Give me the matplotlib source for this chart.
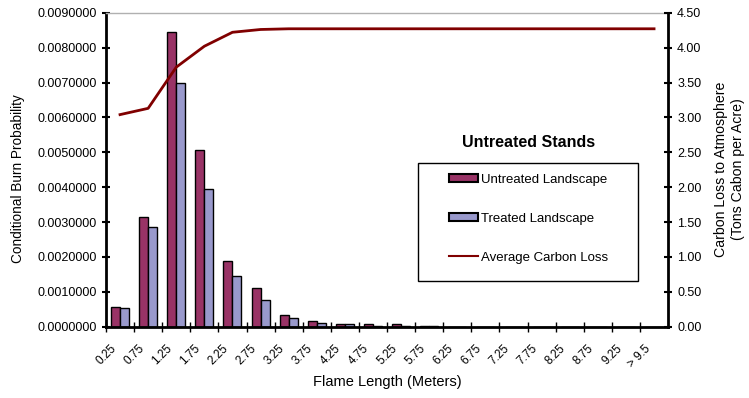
import numpy as np
import matplotlib
matplotlib.use("Agg")
from matplotlib import pyplot as plt
from matplotlib.patches import Patch, Rectangle
from matplotlib.lines import Line2D
from matplotlib.ticker import FormatStrFormatter
import matplotlib.transforms as mtransforms

plt.rcParams['font.family'] = ['Liberation Sans', 'DejaVu Sans']

# flame length classes (meters)
lengths = ['0.25', '0.75', '1.25', '1.75', '2.25', '2.75', '3.25', '3.75', '4.25', '4.75',
           '5.25', '5.75', '6.25', '6.75', '7.25', '7.75', '8.25', '8.75', '9.25', '> 9.5']

untreated = [0.00057, 0.00314, 0.00846, 0.00508, 0.00189, 0.00110, 0.00035, 0.00016,
             0.00008, 0.00008, 0.00008, 0.00003, 0, 0, 0, 0, 0, 0, 0, 0]
treated = [0.00053, 0.00286, 0.00700, 0.00395, 0.00145, 0.00076, 0.00024, 0.00012,
           0.00007, 0.00003, 0.00003, 0.00001, 0, 0, 0, 0, 0, 0, 0, 0]
carbon = [3.04, 3.13, 3.72, 4.02, 4.22, 4.26, 4.27, 4.27, 4.27, 4.27,
          4.27, 4.27, 4.27, 4.27, 4.27, 4.27, 4.27, 4.27, 4.27, 4.27]

fig = plt.figure(figsize=(7.49, 3.98), dpi=100)
ax = fig.add_axes([0.1415, 0.179, 0.7505, 0.789])

x = np.arange(len(lengths))
w = 0.32
ax.bar(x - w/2, untreated, w, color='#993366', edgecolor='black', linewidth=1)
ax.bar(x + w/2, treated, w, color='#9999CC', edgecolor='black', linewidth=1)

ax.set_xlim(-0.5, len(lengths) - 0.5)
ax.set_ylim(0, 0.009)
ax.set_yticks(np.arange(0, 0.0091, 0.001))
ax.yaxis.set_major_formatter(FormatStrFormatter('%.7f'))
ax.set_xticks(x - 0.5)
ax.set_xticklabels([])
ax.set_xticks(x, minor=True)
ax.set_xticklabels(lengths, minor=True, rotation=45, ha='right', rotation_mode='anchor')
ax.tick_params(axis='x', which='minor', length=0, pad=7, labelsize=8.5)
ax.tick_params(axis='x', which='major', direction='inout', length=7, width=1)
ax.tick_params(axis='y', direction='inout', length=6, width=1.5, labelsize=9)
# nudge the slanted class labels down and to the left
shift = mtransforms.ScaledTranslation(-10/100, -6/100, fig.dpi_scale_trans)
for lbl in ax.get_xticklabels(minor=True):
    lbl.set_transform(lbl.get_transform() + shift)

for s in ['left', 'bottom']:
    ax.spines[s].set_linewidth(2)
ax.spines['top'].set_color('#b0b0b0')
ax.spines['top'].set_linewidth(1)
ax.spines['right'].set_visible(False)

fig.text(0.517, 0.04, 'Flame Length (Meters)', ha='center', va='center', fontsize=10.5)
fig.text(0.024, 0.55, 'Conditional Burn Probability', rotation=90, ha='center', va='center',
         fontsize=9.8)

ax2 = ax.twinx()
ax2.plot(x, carbon, color='#800000', linewidth=2)
ax2.set_ylim(0, 4.5)
ax2.set_yticks(np.arange(0, 4.51, 0.5))
ax2.yaxis.set_major_formatter(FormatStrFormatter('%.2f'))
ax2.tick_params(axis='y', direction='inout', length=6, width=1.5, labelsize=9)
ax2.spines['right'].set_linewidth(2)
ax2.spines['top'].set_visible(False)
ax2.spines['left'].set_visible(False)
ax2.spines['bottom'].set_visible(False)
fig.text(0.974, 0.575, 'Carbon Loss to Atmosphere\n(Tons Cabon per Acre)', rotation=90,
         ha='center', va='center', fontsize=10.2, linespacing=1.3)

# legend frame drawn separately so its size can be set freely
ax2.add_patch(Rectangle((0.555, 0.147), 0.3915, 0.374, transform=ax2.transAxes,
                        facecolor='white', edgecolor='black', linewidth=1, zorder=4))
handles = [Patch(facecolor='#993366', edgecolor='black', linewidth=1.5),
           Patch(facecolor='#9999CC', edgecolor='black', linewidth=1.5),
           Line2D([0], [0], color='#800000', linewidth=1.5)]
labels = ['Untreated Landscape', 'Treated Landscape', 'Average Carbon Loss']
leg = ax2.legend(handles, labels, loc='upper left', bbox_to_anchor=(0.6095, 0.488),
                 frameon=False, fontsize=9.5, labelspacing=2.05, handlelength=2.2,
                 handleheight=0.55, handletextpad=0.25, borderpad=0, borderaxespad=0)
leg.set_zorder(5)
ax2.text(0.751, 0.588, 'Untreated Stands', transform=ax2.transAxes, ha='center', va='center',
         fontsize=11.5, fontweight='bold', zorder=5)

fig.savefig('out.png', dpi=100)
